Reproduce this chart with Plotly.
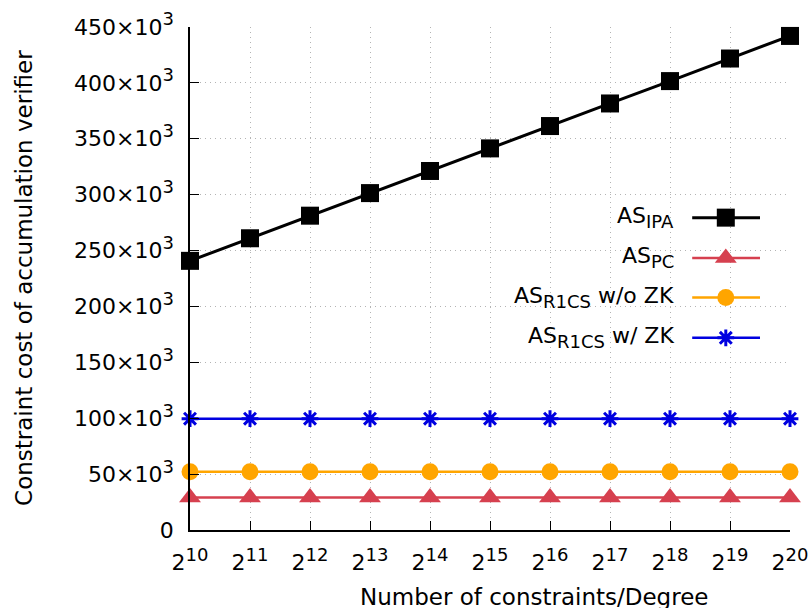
import plotly.graph_objects as go

exponents = [10, 11, 12, 13, 14, 15, 16, 17, 18, 19, 20]

SUP = "<sup><span style='font-size:18px'>%s</span></sup>"
SUB = "<sub><span style='font-size:18px'>%s</span></sub>"

x_tick_labels = ["2" + SUP % e for e in exponents]

as_ipa = [240.8, 261.0, 281.2, 301.4, 321.2, 341.4, 361.4, 381.6, 401.6, 421.8, 442.0]
as_pc = [29.0] * 11
as_r1cs_wo_zk = [52.2] * 11
as_r1cs_w_zk = [99.6] * 11

y_tick_vals = [0, 50, 100, 150, 200, 250, 300, 350, 400, 450]
y_tick_labels = ["0"] + [("%d×10" % v) + SUP % 3 for v in y_tick_vals[1:]]

series_names = ["AS" + SUB % "IPA", "AS" + SUB % "PC",
                "AS" + SUB % "R1CS" + " w/o ZK", "AS" + SUB % "R1CS" + " w/ ZK"]
series_values = [as_ipa, as_pc, as_r1cs_wo_zk, as_r1cs_w_zk]
colors = ["#000000", "#d6404f", "#ffa500", "#0000e0"]
symbols = ["square", "triangle-up", "circle", "asterisk"]
msizes = [18, 19, 17, 14]

FONT = "DejaVu Sans"
FS = 22

fig = go.Figure()

for name, vals, c, s, ms in zip(series_names, series_values, colors, symbols, msizes):
    fig.add_trace(go.Scatter(
        x=exponents, y=vals, mode="lines+markers", name=name,
        line=dict(color=c, width=3 if c == "#000000" else 2.5),
        marker=dict(symbol=s, size=ms, color=c,
                    line=dict(color=c, width=3 if s == "asterisk" else 0)),
        showlegend=False, cliponaxis=False,
    ))

# custom gnuplot-style legend (text left, sample right)
leg_y = [0.621, 0.541, 0.462, 0.382]
for name, c, s, ms, ly in zip(series_names, colors, symbols, msizes, leg_y):
    fig.add_trace(go.Scatter(
        x=[0.837, 0.95], y=[ly, ly], mode="lines",
        line=dict(color=c, width=3 if c == "#000000" else 2.5),
        xaxis="x2", yaxis="y2", showlegend=False, hoverinfo="skip"))
    fig.add_trace(go.Scatter(
        x=[0.893], y=[ly], mode="markers",
        marker=dict(symbol=s, size=ms, color=c,
                    line=dict(color=c, width=3 if s == "asterisk" else 0)),
        xaxis="x2", yaxis="y2", showlegend=False, hoverinfo="skip", cliponaxis=False))
    fig.add_annotation(x=0.81, y=ly, xref="paper", yref="paper", text=name,
                       showarrow=False, xanchor="right", yanchor="middle",
                       font=dict(family=FONT, size=FS, color="#000000"))

fig.update_layout(
    width=809, height=608,
    margin=dict(l=190, r=19, t=27, b=78, autoexpand=False),
    paper_bgcolor="white", plot_bgcolor="white",
    font=dict(family=FONT, size=FS, color="#000000"),
    xaxis=dict(
        range=[10, 20], tickmode="array", tickvals=exponents, ticktext=x_tick_labels,
        showline=True, linecolor="#000000", linewidth=1.5, mirror=False,
        ticks="inside", ticklen=9, tickcolor="#000000", tickwidth=1.2,
        showgrid=True, gridcolor="#b4b4b4", griddash="1px,4px", gridwidth=1,
        zeroline=False, ticklabelstandoff=12, automargin=False,
        tickfont=dict(family=FONT, size=FS),
    ),
    yaxis=dict(
        range=[0, 450], tickmode="array", tickvals=y_tick_vals, ticktext=y_tick_labels,
        showline=True, linecolor="#000000", linewidth=1.5, mirror=False,
        ticks="inside", ticklen=9, tickcolor="#000000", tickwidth=1.2,
        showgrid=True, gridcolor="#b4b4b4", griddash="1px,4px", gridwidth=1,
        zeroline=False, ticklabelstandoff=10, automargin=False,
        tickfont=dict(family=FONT, size=FS),
    ),
    xaxis2=dict(domain=[0, 1], range=[0, 1], overlaying="x", visible=False, fixedrange=True),
    yaxis2=dict(domain=[0, 1], range=[0, 1], overlaying="y", visible=False, fixedrange=True),
    showlegend=False,
)

fig.add_annotation(x=0.573, y=-0.133, xref="paper", yref="paper",
                   text="Number of constraints/Degree", showarrow=False,
                   xanchor="center", yanchor="middle",
                   font=dict(family=FONT, size=23, color="#000000"))
fig.add_annotation(x=-0.276, y=0.502, xref="paper", yref="paper",
                   text="Constraint cost of accumulation verifier", showarrow=False,
                   textangle=-90, xanchor="center", yanchor="middle",
                   font=dict(family=FONT, size=23, color="#000000"))

fig.write_html("out.html", config={"displayModeBar": False},
               post_script="document.body.style.margin='0px';document.body.style.overflow='hidden';")
